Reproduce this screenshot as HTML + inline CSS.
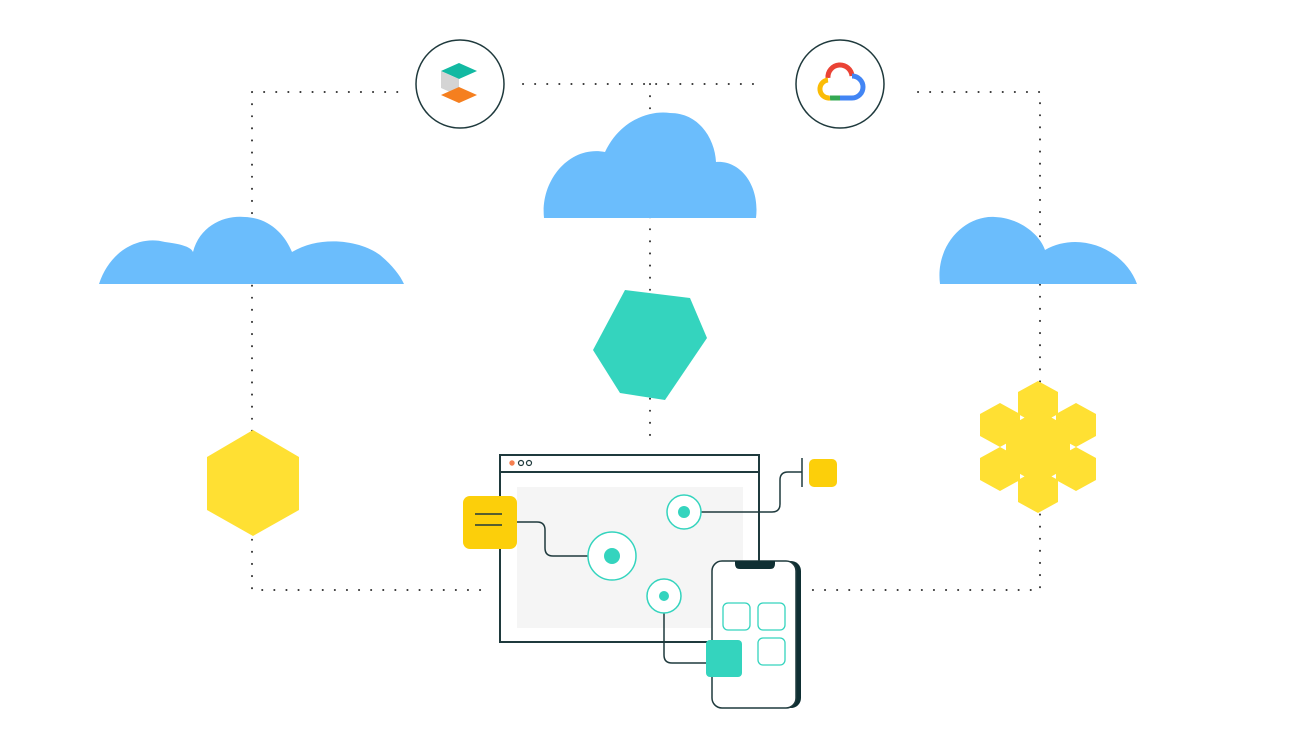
<!DOCTYPE html>
<html><head><style>body{margin:0;background:#fff}svg{display:block}</style></head><body>
<svg width="1300" height="736" viewBox="0 0 1300 736" xmlns="http://www.w3.org/2000/svg">
<defs>
<polygon id="hx" points="0,-22 20,-11 20,11 0,22 -20,11 -20,-11" fill="#ffe033"/>
</defs>
<g stroke="#333" stroke-width="2" stroke-dasharray="0.1 12" stroke-linecap="round" fill="none">
<path d="M252,92 H400 M252,92 V590 H490"/>
<path d="M918,92 H1040 V590 H805"/>
<path d="M523,84 H765 M650,84 V445"/>
</g>
<!-- clouds -->
<g fill="#6bbdfc">
<path d="M544,218 C540,180 570,145 605,152 C620,120 650,110 670,113 C700,113 715,140 716,162 C740,160 760,185 756,218 Z"/>
<path d="M99,284 C110,250 140,235 165,242 C190,245 192,250 193,252 C200,225 225,215 245,217 C270,218 285,235 292,252 C320,235 360,240 380,255 C392,265 400,275 404,284 Z"/>
<path d="M940,284 C935,245 965,215 995,217 C1020,218 1040,235 1045,250 C1080,230 1125,250 1137,284 Z"/>
</g>
<polygon points="625,290 690,298 707,338 665,400 620,393 593,350" fill="#34d4be"/>
<polygon points="253,430 299,457 299,510 253,536 207,510 207,457" fill="#ffe033"/>
<g>
<use href="#hx" x="1038" y="403"/><use href="#hx" x="1038" y="491"/>
<use href="#hx" x="1000" y="425"/><use href="#hx" x="1076" y="425"/><use href="#hx" x="1000" y="469"/><use href="#hx" x="1076" y="469"/>
<polygon points="1038,410 1070,428 1070,466 1038,484 1006,466 1006,428" fill="#ffe033"/>
</g>
<!-- top circles -->
<circle cx="460" cy="84" r="44" fill="#fff" stroke="#1f3a3d" stroke-width="1.5"/>
<polygon points="441,71 459,63 477,71 459,79" fill="#12b9a2"/>
<polygon points="441,71 459,79 459,96 441,88" fill="#d4d4d4"/>
<polygon points="441,95 459,87 477,95 459,103" fill="#f57f1f"/>
<circle cx="840" cy="84" r="44" fill="#fff" stroke="#1f3a3d" stroke-width="1.5"/>
<g fill="none" stroke-width="5">
<path d="M828,78 A12,12 0 0 1 852,76" stroke="#ea4335"/>
<path d="M852,76 A9,9 0 0 1 852,98 H840" stroke="#4285f4"/>
<path d="M840,98 H830" stroke="#34a853"/>
<path d="M830,98 A9,9 0 0 1 828,80" stroke="#fbbc05"/>
</g>
<!-- browser -->
<rect x="500" y="455" width="259" height="187" fill="#fff" stroke="#1f3a3d" stroke-width="2"/>
<line x1="500" y1="472" x2="759" y2="472" stroke="#1f3a3d" stroke-width="2"/>
<circle cx="512" cy="463" r="2.7" fill="#f57f50"/>
<circle cx="521" cy="463" r="2.5" fill="none" stroke="#1f3a3d" stroke-width="1.2"/>
<circle cx="529" cy="463" r="2.5" fill="none" stroke="#1f3a3d" stroke-width="1.2"/>
<rect x="517" y="487" width="226" height="141" fill="#f5f5f5"/>
<g fill="none" stroke="#1f3a3d" stroke-width="1.5">
<path d="M517,522 H537 Q545,522 545,530 V548 Q545,556 553,556 H588"/>
<path d="M700,512 H772 Q780,512 780,504 V480 Q780,472 788,472 H802"/>
<path d="M802,458 V487"/>
<path d="M664,613 V655 Q664,663 672,663 H706"/>
</g>
<rect x="463" y="496" width="54" height="53" rx="7" fill="#fccf0a"/>
<path d="M475,514 H502 M475,525 H502" stroke="#1f3a3d" stroke-width="1.5"/>
<rect x="809" y="459" width="28" height="28" rx="5" fill="#fccf0a"/>
<g stroke="#34d4be" stroke-width="1.5" fill="#fff">
<circle cx="612" cy="556" r="24"/><circle cx="684" cy="512" r="17"/><circle cx="664" cy="596" r="17"/>
</g>
<g fill="#34d4be"><circle cx="612" cy="556" r="8"/><circle cx="684" cy="512" r="6"/><circle cx="664" cy="596" r="5"/></g>
<!-- phone -->
<rect x="714" y="561" width="87" height="147" rx="10" fill="#0f2f33"/>
<rect x="712" y="561" width="84" height="147" rx="10" fill="#fff" stroke="#1f3a3d" stroke-width="1.5"/>
<path d="M735,561 H775 V564 Q775,569 770,569 H740 Q735,569 735,564 Z" fill="#0f2f33"/>
<g fill="none" stroke="#34d4be" stroke-width="1.3">
<rect x="723" y="603" width="27" height="27" rx="5"/><rect x="758" y="603" width="27" height="27" rx="5"/><rect x="758" y="638" width="27" height="27" rx="5"/>
</g>
<rect x="706" y="640" width="36" height="37" rx="4" fill="#34d4be"/>
</svg>
</body></html>
